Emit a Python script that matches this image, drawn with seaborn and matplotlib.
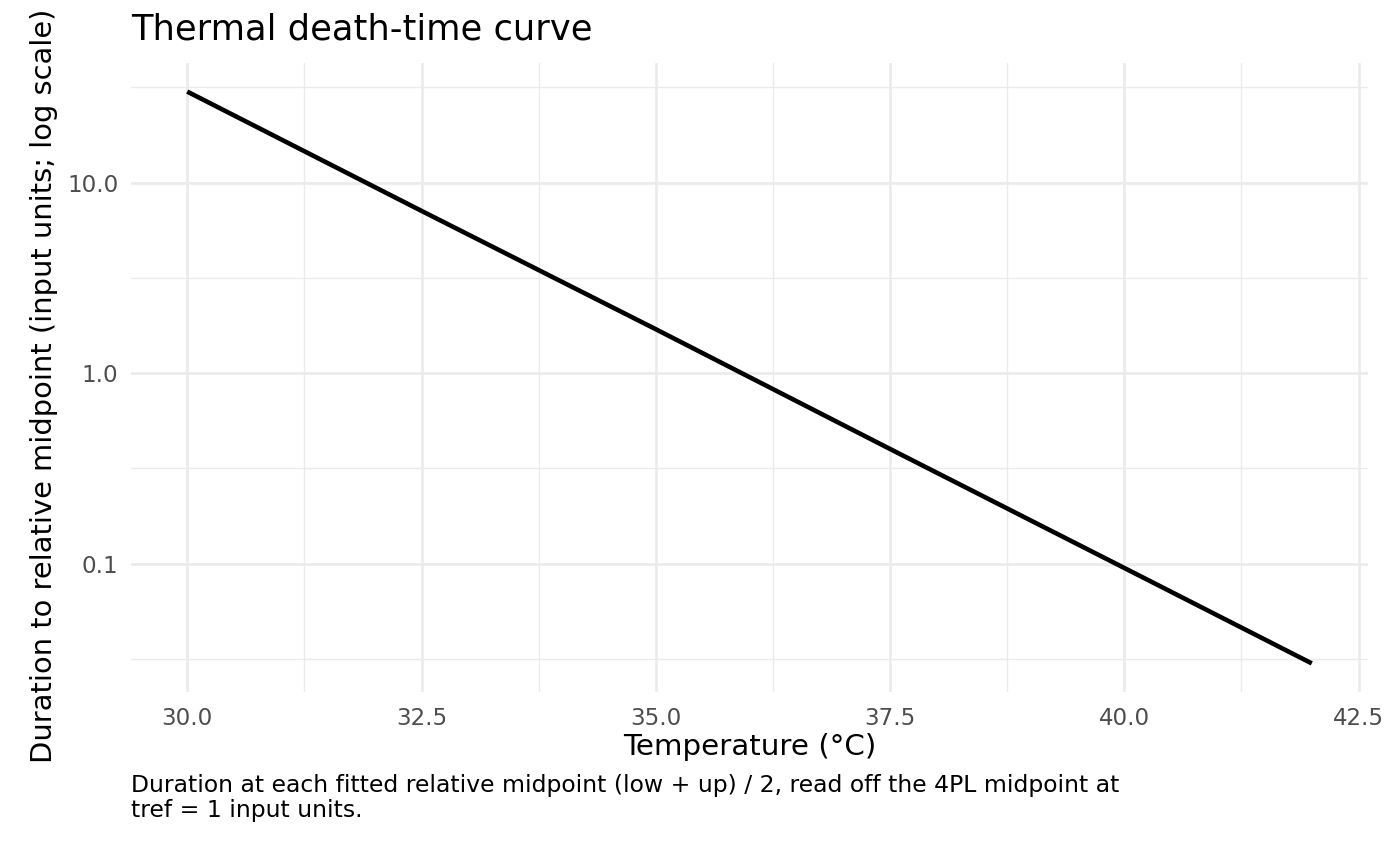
import numpy as np
import pandas as pd
import matplotlib
matplotlib.use("Agg")
import matplotlib.pyplot as plt
import matplotlib.ticker as mticker
import seaborn as sns

# values
temperature = [30.0, 32.5, 35.0, 37.5, 40.0, 42.0]
duration = [30.0, 7.1, 1.7, 0.40, 0.095, 0.030]

x_major = [30.0, 32.5, 35.0, 37.5, 40.0, 42.5]
x_minor = [31.25, 33.75, 36.25, 38.75, 41.25]
y_major = [0.1, 1.0, 10.0]
y_minor = [10 ** -1.5, 10 ** -0.5, 10 ** 0.5, 10 ** 1.5]

title = "Thermal death-time curve"
xlabel = "Temperature (°C)"
ylabel = "Duration to relative midpoint (input units; log scale)"
caption = ("Duration at each fitted relative midpoint (low + up) / 2, read off the 4PL midpoint at\n"
           "tref = 1 input units.")

df = pd.DataFrame({"Temperature": temperature, "Duration": duration})

sns.set_style("white")
plt.rcParams['font.family'] = ['DejaVu Sans']
plt.rcParams['text.color'] = 'black'

fig = plt.figure(figsize=(14, 8.66), dpi=100)
ax = fig.add_axes([131 / 1400, 1 - 692 / 866, (1368 - 131) / 1400, (692 - 63) / 866])

sns.lineplot(data=df, x="Temperature", y="Duration", color="black", linewidth=3.3, ax=ax,
             solid_capstyle="butt")
ax.set_yscale("log")

# ggplot-like 5% expansion
xlo, xhi = min(temperature), max(temperature)
xpad = 0.05 * (xhi - xlo)
ax.set_xlim(xlo - xpad, xhi + xpad)
ylo, yhi = np.log10(min(duration)), np.log10(max(duration))
ypad = 0.05 * (yhi - ylo)
ax.set_ylim(10 ** (ylo - ypad), 10 ** (yhi + ypad))

ax.xaxis.set_major_locator(mticker.FixedLocator(x_major))
ax.xaxis.set_minor_locator(mticker.FixedLocator(x_minor))
ax.yaxis.set_major_locator(mticker.FixedLocator(y_major))
ax.yaxis.set_minor_locator(mticker.FixedLocator(y_minor))
ax.xaxis.set_major_formatter(mticker.FuncFormatter(lambda v, p: f"{v:.1f}"))
ax.yaxis.set_major_formatter(mticker.FuncFormatter(lambda v, p: f"{v:.1f}"))
ax.yaxis.set_minor_formatter(mticker.NullFormatter())

ax.grid(which="major", color="#EBEBEB", linewidth=1.9, zorder=0)
ax.grid(which="minor", color="#EBEBEB", linewidth=0.95, zorder=0)
ax.set_axisbelow(True)
for s in ax.spines.values():
    s.set_visible(False)

ax.tick_params(which="both", length=0)
ax.tick_params(axis="x", labelsize=16.6, labelcolor="#4D4D4D", pad=11)
ax.tick_params(axis="y", labelsize=16.6, labelcolor="#4D4D4D", pad=9)

ax.set_xlabel(xlabel, fontsize=21.2, color="black", labelpad=2)
ax.set_ylabel(ylabel, fontsize=20.8, color="black")
# nudge the long y title down a bit so it stays inside the figure
ax.yaxis.set_label_coords((58 - 131) / 1237, (692 - 386) / 629)

fig.text(131 / 1400, 1 - 30 / 866, title, fontsize=25.4, ha="left", va="center", color="black")
fig.text(131 / 1400, 1 - 774 / 866, caption, fontsize=16.9, ha="left", va="top",
         linespacing=1.12, color="black")

fig.savefig("out.png", dpi=100)
